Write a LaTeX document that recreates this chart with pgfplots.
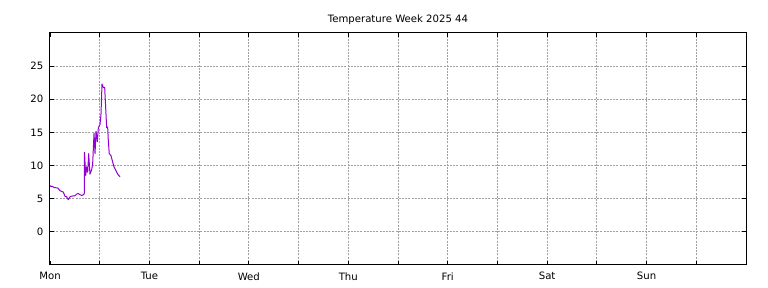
\documentclass[border=0pt]{standalone}
\usepackage{fontspec}
\setmainfont{DejaVu Sans}
\usepackage{pgfplots}
\pgfplotsset{compat=1.18}
\definecolor{lineviolet}{RGB}{148,0,211}
\definecolor{gridgray}{RGB}{160,160,160}
\begin{document}
\begin{tikzpicture}[x=1pt,y=1pt]
\path[use as bounding box] (-37.5,-17.25) rectangle (538.5,198.75);
\begin{axis}[
  at={(0,0)}, anchor=south west,
  scale only axis, width=522pt, height=174pt,
  xmin=0, xmax=7, ymin=-5, ymax=30,
  xtick={0,1,2,3,4,5,6},
  xticklabels={Mon,Tue,Wed,Thu,Fri,Sat,Sun},
  minor xtick={0.5,1.5,2.5,3.5,4.5,5.5,6.5},
  ytick={0,5,10,15,20,25},
  grid=both,
  major grid style={gridgray, line width=0.75pt, dash pattern=on 1.5pt off 0.9pt},
  minor grid style={gridgray, line width=0.75pt, dash pattern=on 1.5pt off 0.9pt},
  tick align=inside,
  major tick length=3pt, minor tick length=3pt,
  tick style={black, line width=0.6pt},
  axis line style={black, line width=0.75pt},
  ticklabel style={font=\fontsize{7.6}{9}\selectfont},
  /pgf/number format/assume math mode=true,
  xticklabel style={yshift=-2pt},
  yticklabel style={xshift=-1.5pt},
  title={Temperature Week 2025 44},
  title style={font=\fontsize{7.6}{9}\selectfont, yshift=-3pt},
]
\addplot[lineviolet, line width=0.75pt, line join=round] coordinates {
(0.000,7.0) (0.010,6.8) (0.020,6.9) (0.040,6.7) (0.080,6.6) (0.101,6.2)
(0.134,6.0) (0.151,5.35) (0.166,5.3) (0.184,4.85) (0.201,5.3) (0.221,5.4)
(0.251,5.45) (0.269,5.7) (0.282,5.8) (0.302,5.6) (0.319,5.5) (0.337,5.6)
(0.345,5.8) (0.347,12.0) (0.359,8.5) (0.369,9.8) (0.379,9.0) (0.389,11.8)
(0.402,8.7) (0.419,9.4) (0.429,10.2) (0.443,14.9) (0.453,11.8) (0.463,15.2)
(0.476,13.6) (0.486,15.7) (0.503,16.2) (0.513,17.8) (0.523,22.3) (0.536,21.8)
(0.550,21.8) (0.563,17.8) (0.570,15.7) (0.580,15.8) (0.586,13.9) (0.596,11.8)
(0.613,11.5) (0.631,10.5) (0.644,9.8) (0.664,9.2) (0.681,8.7) (0.704,8.3)
};
\end{axis}
\end{tikzpicture}
\end{document}
